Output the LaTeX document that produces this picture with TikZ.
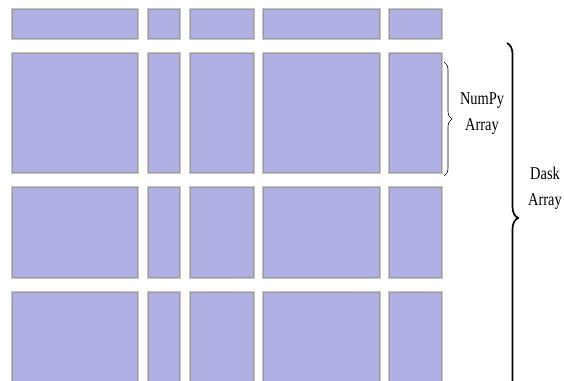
\documentclass[tikz,border=0pt]{standalone}
\usepackage{fontspec}
\usepackage{xcolor}
\usepackage{tikz}
\usetikzlibrary{decorations.pathreplacing}
\newfontfamily\lblfont[FakeStretch=0.8]{Liberation Serif}
\definecolor{chunkfill}{HTML}{B0B0E4}
\definecolor{chunkedge}{HTML}{9A9A9A}

\begin{document}
\begin{tikzpicture}[x=1pt,y=-1pt,
  chunk/.style={rectangle,fill=chunkfill,draw=chunkedge,line width=1.2pt,
    inner sep=0pt,outer sep=0pt,
    preaction={draw=black!22,line width=2.8pt}},
  lbl/.style={align=center,inner sep=0pt,font=\lblfont\fontsize{18}{26}\selectfont},
  thinbrace/.style={decorate,decoration={brace,amplitude=8pt},line width=0.6pt},
  bigbrace/.style={decorate,decoration={brace,amplitude=11pt},line width=1.7pt}]
\useasboundingbox (0,0) rectangle (564,380);
\clip (0,0) rectangle (564,380);
% chunks
\foreach \y/\h [count=\r] in {24/30, 113/120, 232.5/91, 337.5/91}
  \foreach \x/\w [count=\c] in {75/126, 164/32, 222/64, 321.5/117, 415.5/53}
    \node[chunk,minimum width=\w-1.2,minimum height=\h-1.2] (b-\r-\c) at (\x,\y) {};
% braces
\coordinate (np-top) at (444,62);
\coordinate (np-bot) at (444,176);
\coordinate (da-top) at (507,43);
\coordinate (da-bot) at (507,393);
\draw[thinbrace] (np-top) -- (np-bot);
\draw[bigbrace] (da-top) -- (da-bot);
\node[lbl] (numpy) at (482,114) {NumPy\\Array};
\node[lbl] (dask) at (545,188) {Dask\\Array};
\end{tikzpicture}
\end{document}
